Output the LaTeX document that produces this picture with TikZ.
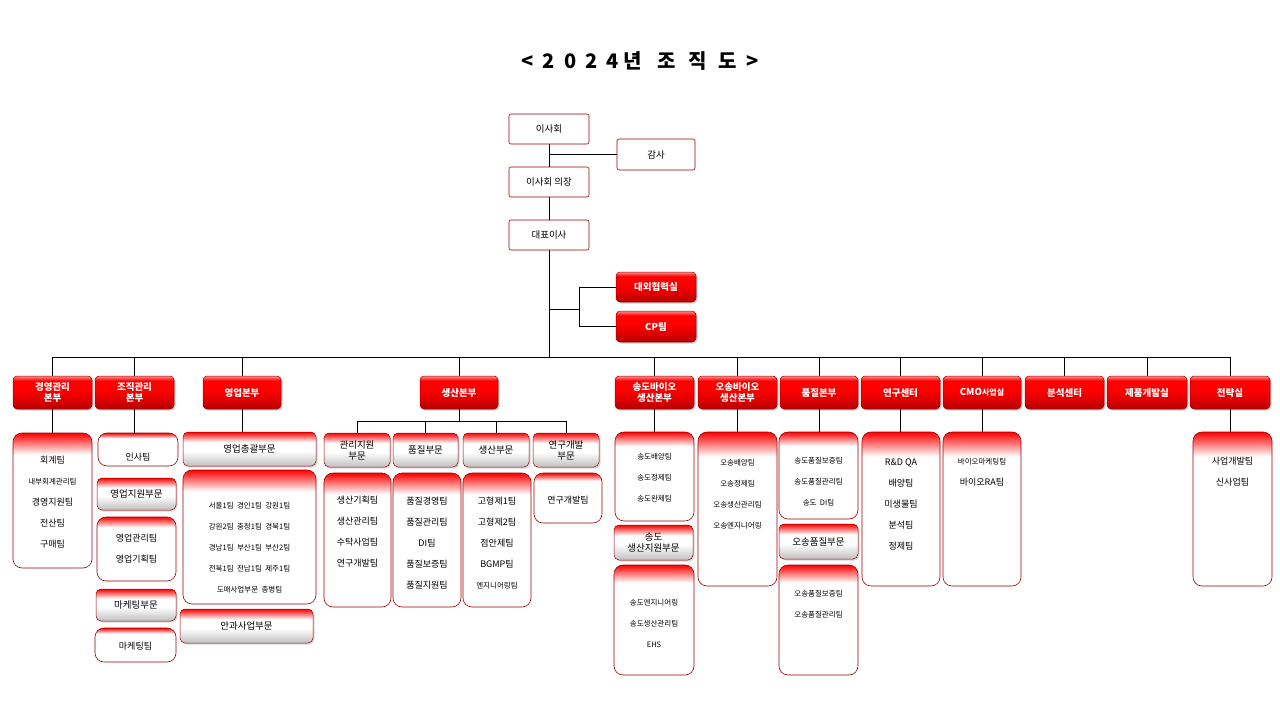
\documentclass[tikz,border=0pt]{standalone}
\usepackage{fontspec}
\setmainfont{Noto Sans CJK KR}
\usetikzlibrary{shadows}
\pgfdeclareverticalshading{topred}{100bp}{color(0bp)=(red!70!black); color(25bp)=(red!70!black); color(40bp)=(red!88!black); color(55bp)=(red); color(68bp)=(red); color(75bp)=(red!45!white); color(100bp)=(red!45!white)}
\pgfdeclareverticalshading{listsh}{100bp}{color(0bp)=(white); color(25bp)=(white); color(67bp)=(white); color(75bp)=(red); color(100bp)=(red)}
\pgfdeclareverticalshading{hdrsh}{100bp}{color(0bp)=(gray!50); color(25bp)=(gray!50); color(47bp)=(white); color(60bp)=(white); color(75bp)=(red); color(100bp)=(red)}
\tikzset{
 plain/.style={draw=red!60!black,fill=white,rounded corners=2pt,line width=0.6pt},
 plaintxt/.style={font=\fontsize{9.5}{12}\selectfont},
 top/.style={draw=red!60!black,shade,shading=topred,rounded corners=4pt,line width=0.5pt,drop shadow={opacity=0.35,shadow xshift=1.5pt,shadow yshift=-1.5pt}},
 toptxt/.style={align=center,text=white,font=\bfseries\fontsize{9.5}{11}\selectfont},
 hdr/.style={draw=red!60!black,shade,shading=hdrsh,rounded corners=5pt,line width=0.5pt,drop shadow={opacity=0.3,shadow xshift=1.5pt,shadow yshift=-1.5pt}},
 hdrtxt/.style={align=center,font=\fontsize{9.5}{11}\selectfont},
 lst/.style={draw=red!60!black,shade,shading=listsh,rounded corners=9pt,line width=0.6pt},
 lsttxt/.style={align=center,font=\fontsize{9}{21}\selectfont},
 smtxt/.style={align=center,font=\fontsize{7.5}{21}\selectfont},
 ln/.style={draw=black,line width=0.6pt}
}
\newcommand\bt[9]{%
 \pgfmathsetmacro\bxcx{(#2+#4)/2}\pgfmathsetmacro\bxcy{(#3+#5)/2}%
 \pgfmathsetmacro\bxw{#4-#2}\pgfmathsetmacro\bxh{#5-#3}%
 \node[#6,minimum width=\bxw pt,minimum height=\bxh pt,inner sep=0pt] (#1) at (\bxcx,\bxcy) {};%
 \node[#7,inner sep=0pt] at (\bxcx,#8) {#9};}
\begin{document}
\begin{tikzpicture}[x=1pt,y=-1pt]
\useasboundingbox (0,0) rectangle (1280,720);
\node[font=\bfseries\fontsize{20}{24}\selectfont] (title) at (640,61) {<\hspace{9pt}2\hspace{9pt}0\hspace{9pt}2\hspace{9pt}4\hspace{5pt}년\hspace{16pt}조\hspace{12pt}직\hspace{12pt}도\hspace{9pt}>};
% top chain
\bt{board}{509}{114}{589}{144}{plain}{plaintxt}{129}{이사회}
\bt{audit}{617}{139}{695}{170}{plain}{plaintxt}{154.5}{감사}
\bt{chair}{509}{167}{589}{197}{plain}{plaintxt}{182}{이사회 의장}
\bt{ceo}{509}{220}{589}{250}{plain}{plaintxt}{235}{대표이사}
\bt{ext}{616}{272}{696}{302}{top}{toptxt}{287}{대외협력실}
\bt{cp}{616}{311}{696}{342}{top}{toptxt}{326.5}{CP팀}
\coordinate (bus) at (549,357);
\coordinate (ex) at (579,309);
\draw[ln] (board) -- (chair) -- (ceo) (ceo.south) -- (bus);
\draw[ln] (audit.west) -- (audit.west -| board.south);
\draw[ln] (ex -| ceo.south) -- (ex);
\draw[ln] (ext.west) -| (cp.west -| ex) -- (cp.west);
% top level
\bt{t1}{13}{376}{92}{409}{top}{toptxt}{392.5}{경영관리\\본부}
\bt{t2}{95}{376}{174}{409}{top}{toptxt}{392.5}{조직관리\\본부}
\bt{t3}{203}{376}{281}{409}{top}{toptxt}{392.5}{영업본부}
\bt{t4}{420}{376}{498}{409}{top}{toptxt}{392.5}{생산본부}
\bt{t5}{615}{376}{694}{409}{top}{toptxt}{392.5}{송도바이오\\생산본부}
\bt{t6}{698}{376}{777}{409}{top}{toptxt}{392.5}{오송바이오\\생산본부}
\bt{t7}{780}{376}{858}{409}{top}{toptxt}{392.5}{품질본부}
\bt{t8}{861}{376}{940}{409}{top}{toptxt}{392.5}{연구센터}
\bt{t9}{943}{376}{1021}{409}{top}{toptxt}{392.5}{CMO{\fontsize{8}{11}\selectfont 사업실}}
\bt{t10}{1025}{376}{1104}{409}{top}{toptxt}{392.5}{분석센터}
\bt{t11}{1107}{376}{1187}{409}{top}{toptxt}{392.5}{제품개발실}
\bt{t12}{1190}{376}{1270}{409}{top}{toptxt}{392.5}{전략실}
\draw[ln] (t1.north |- bus) -- (t12.north |- bus);
\foreach \t in {t1,t2,t3,t4,t5,t6,t7,t8,t9,t10,t11,t12}{\draw[ln] (\t.north |- bus) -- (\t.north);}
% 경영관리
\bt{a1}{13}{433}{92}{568}{lst}{lsttxt}{502}{회계팀\\{\fontsize{7.5}{21}\selectfont 내부회계관리팀}\\경영지원팀\\전산팀\\구매팀}
\draw[ln] (t1.south) -- (a1.north);
% 조직관리
\bt{b1}{98}{433}{178}{466}{lst}{lsttxt}{457}{인사팀}
\bt{b2}{97}{478}{176}{510}{hdr}{hdrtxt}{494}{영업지원부문}
\bt{b3}{97}{517}{176}{581}{lst}{lsttxt}{549}{영업관리팀\\영업기획팀}
\bt{b4}{96}{589}{176}{621}{hdr}{hdrtxt}{605}{마케팅부문}
\bt{b5}{95}{628}{176}{662}{lst}{lsttxt}{646}{마케팅팀}
\draw[ln] (t2.south) -- (b1.north -| t2.south);
% 영업
\bt{c1}{183}{432}{316}{466}{hdr}{hdrtxt}{449}{영업총괄부문}
\bt{c2}{183}{470}{316}{604}{lst}{smtxt}{548}{서울1팀\ \ 경인1팀\ \ 강원1팀\\강원2팀\ \ 충청1팀\ \ 경북1팀\\경남1팀\ \ 부산1팀\ \ 부산2팀\\전북1팀\ \ 전남1팀\ \ 제주1팀\\도매사업부문\ \ 종병팀}
\bt{c3}{180}{609}{313}{643}{hdr}{hdrtxt}{626}{안과사업부문}
\draw[ln] (t3.south) -- (c1.north -| t3.south);
% 생산
\bt{p1}{324}{433}{390}{467}{hdr}{hdrtxt}{450}{관리지원\\부문}
\bt{p2}{393}{433}{458}{467}{hdr}{hdrtxt}{450}{품질부문}
\bt{p3}{463}{433}{529}{467}{hdr}{hdrtxt}{450}{생산부문}
\bt{p4}{533}{433}{599}{467}{hdr}{hdrtxt}{450}{연구개발\\부문}
\coordinate (pb) at (0,421);
\draw[ln] (t4.south) -- (t4.south |- pb);
\draw[ln] (p1.north |- pb) -- (p4.north |- pb);
\foreach \p in {p1,p2,p3,p4}{\draw[ln] (\p.north |- pb) -- (\p.north);}
\bt{q1}{324}{473}{391}{607}{lst}{lsttxt}{532}{생산기획팀\\생산관리팀\\수탁사업팀\\연구개발팀}
\bt{q2}{393}{473}{461}{607}{lst}{lsttxt}{543}{품질경영팀\\품질관리팀\\DI팀\\품질보증팀\\품질지원팀}
\bt{q3}{463}{473}{531}{607}{lst}{lsttxt}{543}{고형제1팀\\고형제2팀\\점안제팀\\BGMP팀\\{\fontsize{7.5}{21}\selectfont 엔지니어링팀}}
\bt{q4}{534}{473}{602}{523}{lst}{lsttxt}{500}{연구개발팀}
% 송도
\bt{s1}{615}{432}{694}{521}{lst}{smtxt}{478}{송도배양팀\\송도정제팀\\송도완제팀}
\bt{s2}{614}{525}{693}{560}{hdr}{hdrtxt}{542.5}{송도\\생산지원부문}
\bt{s3}{614}{565}{694}{675}{lst}{smtxt}{623}{송도엔지니어링\\송도생산관리팀\\EHS}
\draw[ln] (t5.south) -- (s1.north -| t5.south);
% 오송
\bt{o1}{698}{432}{777}{586}{lst}{smtxt}{494}{오송배양팀\\오송정제팀\\오송생산관리팀\\오송엔지니어링}
\draw[ln] (t6.south) -- (o1.north -| t6.south);
% 품질
\bt{k1}{779}{432}{858}{519}{lst}{smtxt}{482}{송도품질보증팀\\송도품질관리팀\\송도\ \ DI팀}
\bt{k2}{779}{524}{858}{559}{hdr}{hdrtxt}{541.5}{오송품질부문}
\bt{k3}{779}{565}{858}{675}{lst}{smtxt}{604}{오송품질보증팀\\오송품질관리팀}
\draw[ln] (t7.south) -- (k1.north -| t7.south);
% 연구센터
\bt{r1}{862}{432}{940}{586}{lst}{lsttxt}{504}{R\&D QA\\배양팀\\미생물팀\\분석팀\\정제팀}
\draw[ln] (t8.south) -- (r1.north -| t8.south);
% CMO
\bt{m1}{943}{432}{1021}{586}{lst}{smtxt}{472}{바이오마케팅팀\\{\fontsize{9}{21}\selectfont 바이오RA팀}}
\draw[ln] (t9.south) -- (m1.north -| t9.south);
% 전략실
\bt{z1}{1193}{432}{1272}{586}{lst}{lsttxt}{472}{사업개발팀\\신사업팀}
\draw[ln] (t12.south) -- (z1.north -| t12.south);
\end{tikzpicture}
\end{document}
